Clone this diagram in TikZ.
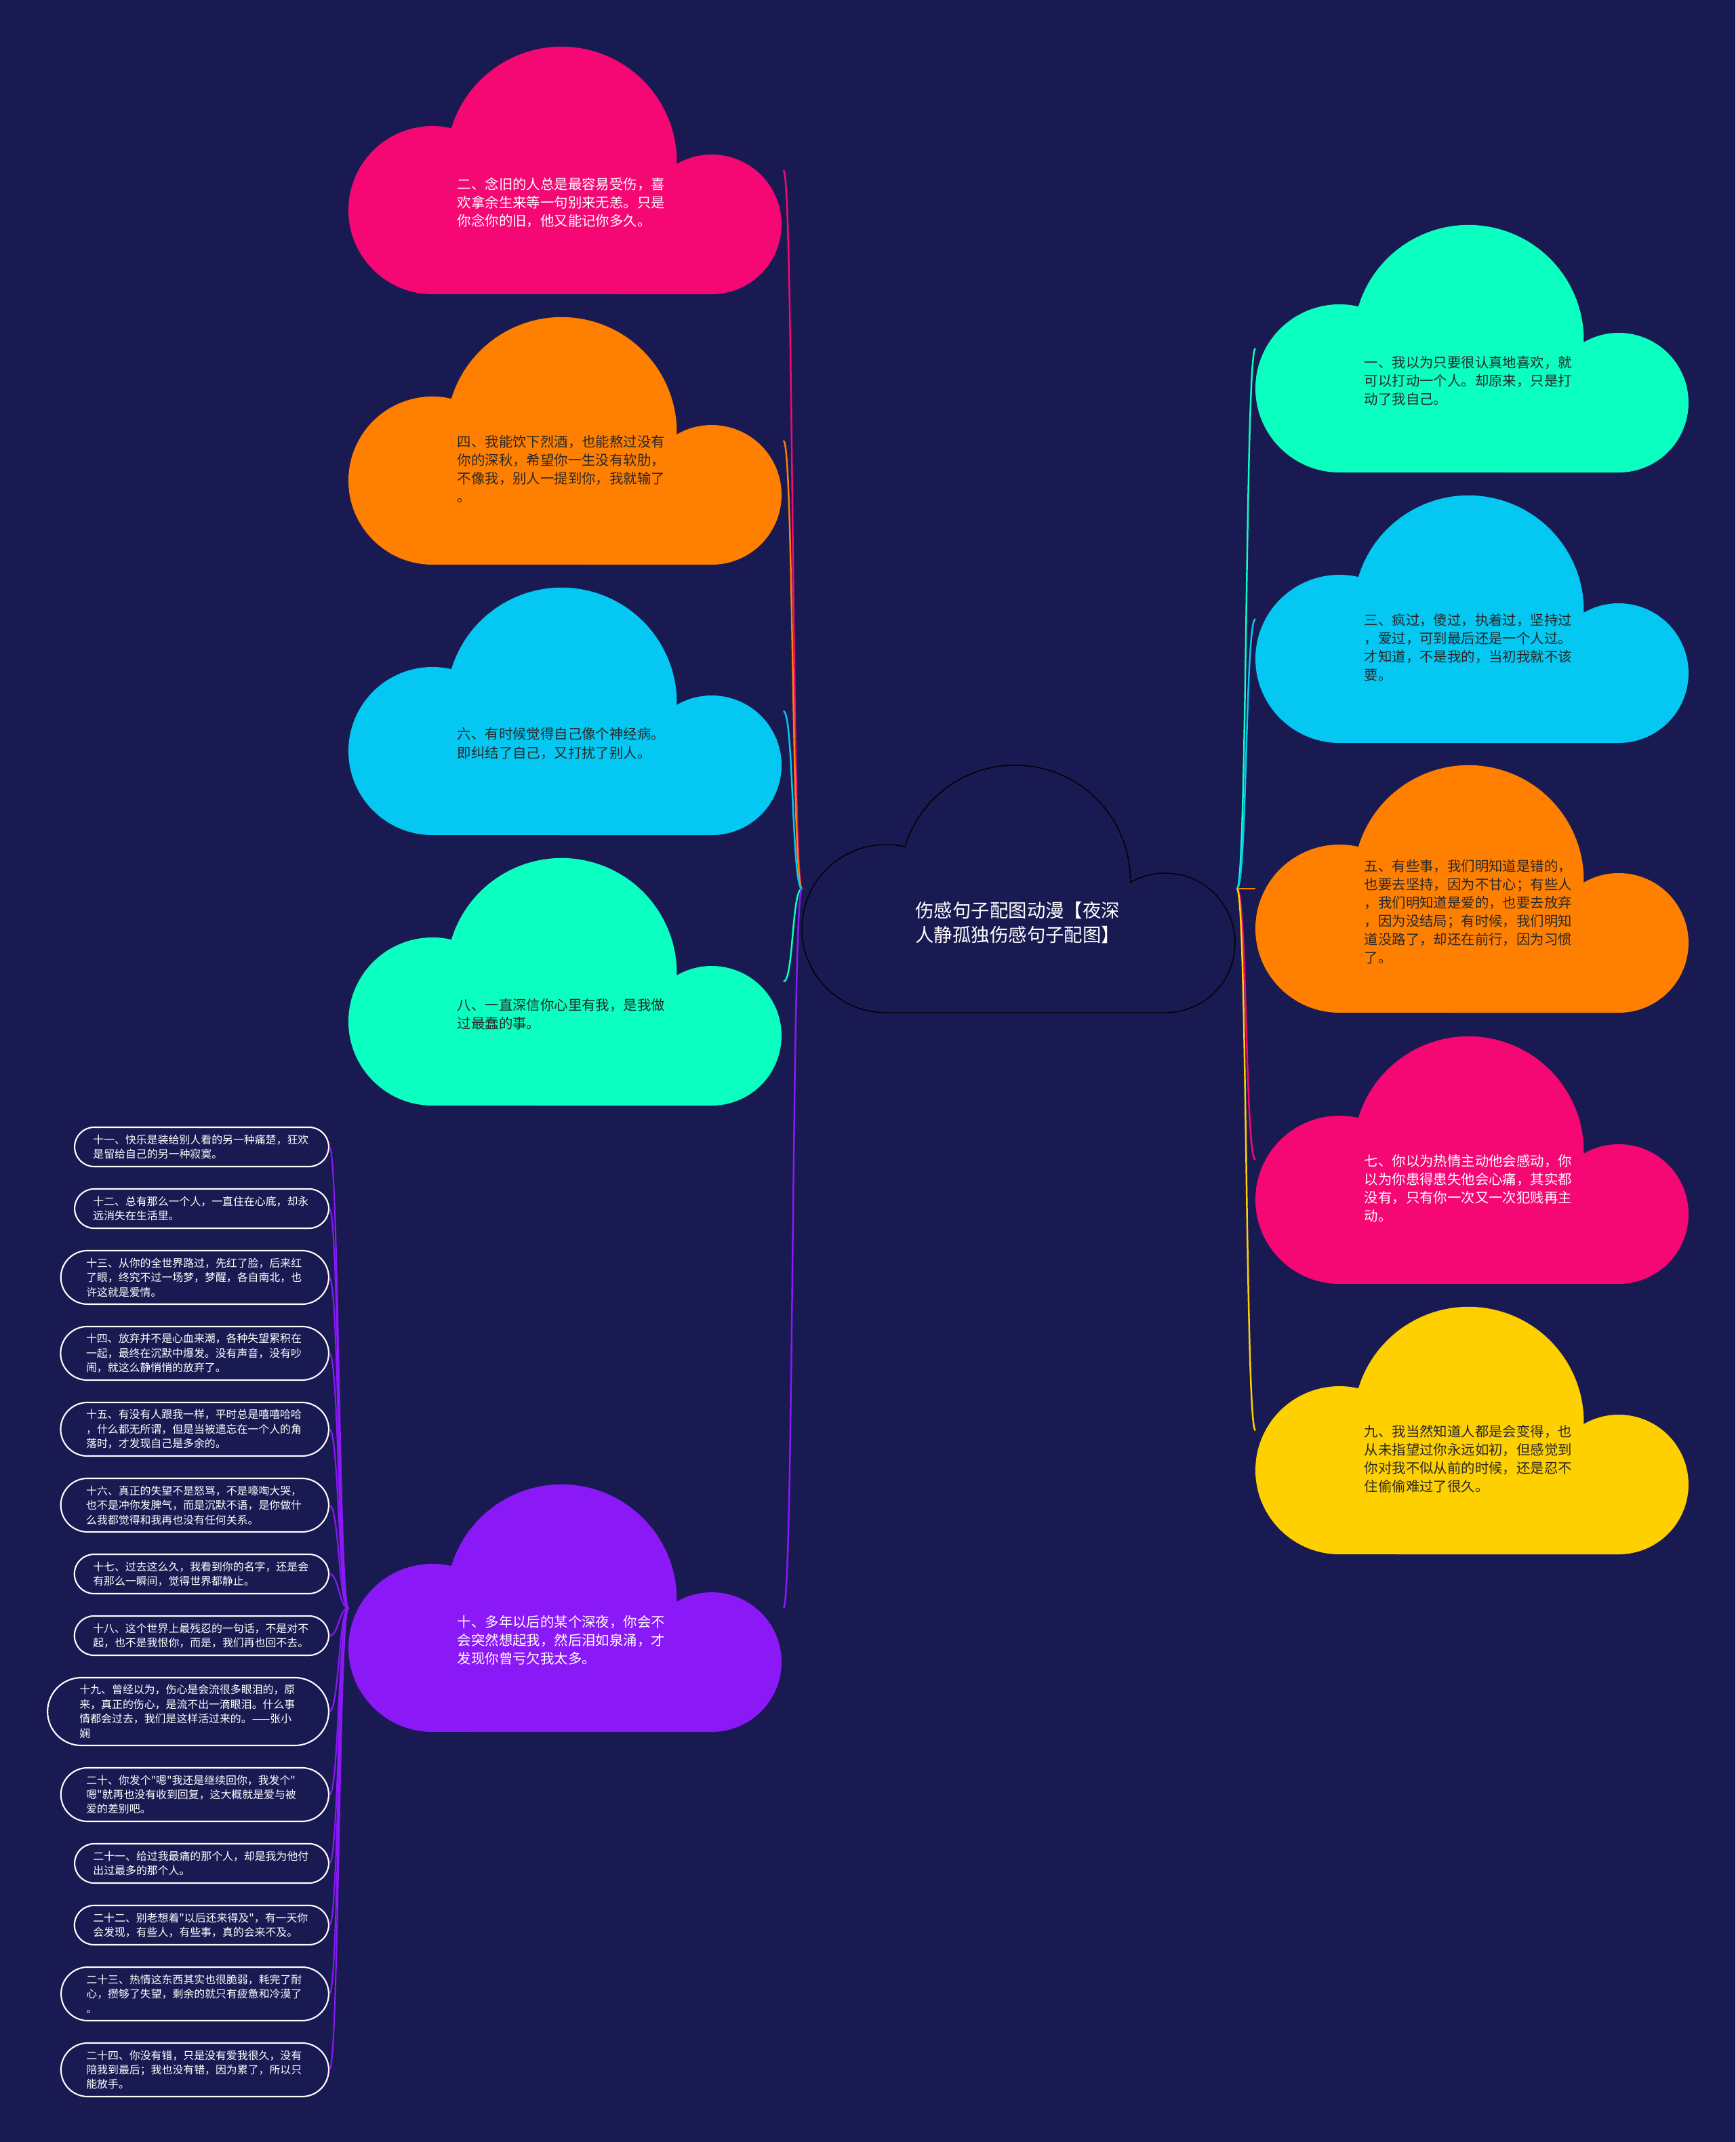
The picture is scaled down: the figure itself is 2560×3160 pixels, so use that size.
\documentclass[tikz,border=0pt]{standalone}
\usepackage{fontspec}
\usepackage{tikz}
\usetikzlibrary{shapes.misc,positioning}
\usepackage{xcolor}
\newfontfamily\cjk{Noto Sans CJK SC}
\definecolor{mynavy}{RGB}{26,26,82}
\definecolor{mypink}{RGB}{246,8,116}
\definecolor{myorange}{RGB}{255,128,0}
\definecolor{mycyan}{RGB}{4,200,242}
\definecolor{mygreen}{RGB}{10,255,192}
\definecolor{mypurple}{RGB}{138,24,247}
\definecolor{myyellow}{RGB}{255,208,0}
\definecolor{mydark}{RGB}{40,40,40}

% cloud outline on the box node #1
\newcommand{\cloud}[2]{%
  \path[#2] ([shift={(124,0)}]#1.south west)
    arc[start angle=270,end angle=77,radius=124]
    arc[start angle=163,end angle=-1,radius=170]
    arc[start angle=120,end angle=-90,radius=103] -- cycle;}

\begin{document}
\begin{tikzpicture}[x=0.01cm,y=0.01cm,
  cloudbox/.style={minimum width=6.4cm,minimum height=3.64cm,inner sep=0pt,anchor=south west},
  cloudtext/.style={font=\cjk\fontsize{5.8pt}{7.7pt}\selectfont,text width=3.1cm,align=left,inner sep=0pt},
  leaf/.style={rounded rectangle,draw=white,line width=0.6pt,text=white,
    font=\cjk\fontsize{4.52pt}{6.09pt}\selectfont,text width=3.2cm,align=left,
    inner ysep=0pt,anchor=east},
  two/.style={minimum height=0.58cm,inner xsep=0.21cm},
  three/.style={minimum height=0.79cm,inner xsep=0.25cm},
  four/.style={minimum height=1.0cm,inner xsep=0.28cm},
  link/.style={line width=0.7pt}]
  \fill[mynavy] (0,0) rectangle (2560,3160);

  % centre
  \node[cloudbox] (root) at (1183,1666) {};
  \cloud{root}{draw=black,line width=0.4pt}
  \node[font=\cjk\fontsize{7.8pt}{10.4pt}\selectfont,text width=3.05cm,align=left,inner sep=0pt,text=white]
    (roottext) at ([shift={(320,133)}]root.south west) {伤感句子配图动漫【夜深\\人静孤独伤感句子配图】};

  % left side
  \node[cloudbox] (c2) at (514,2726) {};
  \cloud{c2}{fill=mypink}
  \node[cloudtext,text=white] (t2) at ([shift={(316,135)}]c2.south west)
    {二、念旧的人总是最容易受伤，喜\\欢拿余生来等一句别来无恙。只是\\你念你的旧，他又能记你多久。};

  \node[cloudbox] (c4) at (514,2327) {};
  \cloud{c4}{fill=myorange}
  \node[cloudtext,text=mydark] (t4) at ([shift={(316,141)}]c4.south west)
    {四、我能饮下烈酒，也能熬过没有\\你的深秋，希望你一生没有软肋，\\不像我，别人一提到你，我就输了\\。};

  \node[cloudbox] (c6) at (514,1928) {};
  \cloud{c6}{fill=mycyan}
  \node[cloudtext,text=mydark] (t6) at ([shift={(316,135)}]c6.south west)
    {六、有时候觉得自己像个神经病。\\即纠结了自己，又打扰了别人。};

  \node[cloudbox] (c8) at (514,1529) {};
  \cloud{c8}{fill=mygreen}
  \node[cloudtext,text=mydark] (t8) at ([shift={(316,135)}]c8.south west)
    {八、一直深信你心里有我，是我做\\过最蠢的事。};

  \node[cloudbox] (c10) at (514,605) {};
  \cloud{c10}{fill=mypurple}
  \node[cloudtext,text=white] (t10) at ([shift={(316,135)}]c10.south west)
    {十、多年以后的某个深夜，你会不\\会突然想起我，然后泪如泉涌，才\\发现你曾亏欠我太多。};

  % right side
  \node[cloudbox] (c1) at (1852,2463) {};
  \cloud{c1}{fill=mygreen}
  \node[cloudtext,text=mydark] (t1) at ([shift={(316,135)}]c1.south west)
    {一、我以为只要很认真地喜欢，就\\可以打动一个人。却原来，只是打\\动了我自己。};

  \node[cloudbox] (c3) at (1852,2064) {};
  \cloud{c3}{fill=mycyan}
  \node[cloudtext,text=mydark] (t3) at ([shift={(316,141)}]c3.south west)
    {三、疯过，傻过，执着过，坚持过\\，爱过，可到最后还是一个人过。\\才知道，不是我的，当初我就不该\\要。};

  \node[cloudbox] (c5) at (1852,1666) {};
  \cloud{c5}{fill=myorange}
  \node[cloudtext,text=mydark] (t5) at ([shift={(316,149)}]c5.south west)
    {五、有些事，我们明知道是错的，\\也要去坚持，因为不甘心；有些人\\，我们明知道是爱的，也要去放弃\\，因为没结局；有时候，我们明知\\道没路了，却还在前行，因为习惯\\了。};

  \node[cloudbox] (c7) at (1852,1266) {};
  \cloud{c7}{fill=mypink}
  \node[cloudtext,text=white] (t7) at ([shift={(316,141)}]c7.south west)
    {七、你以为热情主动他会感动，你\\以为你患得患失他会心痛，其实都\\没有，只有你一次又一次犯贱再主\\动。};

  \node[cloudbox] (c9) at (1852,867) {};
  \cloud{c9}{fill=myyellow}
  \node[cloudtext,text=mydark] (t9) at ([shift={(316,141)}]c9.south west)
    {九、我当然知道人都是会变得，也\\从未指望过你永远如初，但感觉到\\你对我不似从前的时候，还是忍不\\住偷偷难过了很久。};

  % leaves of ten
  \node[leaf,two] (n11) at (486,1468) {十一、快乐是装给别人看的另一种痛楚，狂欢\\是留给自己的另一种寂寞。};
  \node[leaf,two] (n12) at (486,1377) {十二、总有那么一个人，一直住在心底，却永\\远消失在生活里。};
  \node[leaf,three] (n13) at (486,1275.5) {十三、从你的全世界路过，先红了脸，后来红\\了眼，终究不过一场梦，梦醒，各自南北，也\\许这就是爱情。};
  \node[leaf,three] (n14) at (486,1163.5) {十四、放弃并不是心血来潮，各种失望累积在\\一起，最终在沉默中爆发。没有声音，没有吵\\闹，就这么静悄悄的放弃了。};
  \node[leaf,three] (n15) at (486,1051.5) {十五、有没有人跟我一样，平时总是嘻嘻哈哈\\，什么都无所谓，但是当被遗忘在一个人的角\\落时，才发现自己是多余的。};
  \node[leaf,three] (n16) at (486,939.5) {十六、真正的失望不是怒骂，不是嚎啕大哭，\\也不是冲你发脾气，而是沉默不语，是你做什\\么我都觉得和我再也没有任何关系。};
  \node[leaf,two] (n17) at (486,838) {十七、过去这么久，我看到你的名字，还是会\\有那么一瞬间，觉得世界都静止。};
  \node[leaf,two] (n18) at (486,747) {十八、这个世界上最残忍的一句话，不是对不\\起，也不是我恨你，而是，我们再也回不去。};
  \node[leaf,four] (n19) at (486,635) {十九、曾经以为，伤心是会流很多眼泪的，原\\来，真正的伤心，是流不出一滴眼泪。什么事\\情都会过去，我们是这样活过来的。——张小\\娴};
  \node[leaf,three] (n20) at (486,512.5) {二十、你发个"嗯"我还是继续回你，我发个"\\嗯"就再也没有收到回复，这大概就是爱与被\\爱的差别吧。};
  \node[leaf,two] (n21) at (486,411) {二十一、给过我最痛的那个人，却是我为他付\\出过最多的那个人。};
  \node[leaf,two] (n22) at (486,320) {二十二、别老想着"以后还来得及"，有一天你\\会发现，有些人，有些事，真的会来不及。};
  \node[leaf,three] (n23) at (486,218.5) {二十三、热情这东西其实也很脆弱，耗完了耐\\心，攒够了失望，剩余的就只有疲惫和冷漠了\\。};
  \node[leaf,three] (n24) at (486,106.5) {二十四、你没有错，只是没有爱我很久，没有\\陪我到最后；我也没有错，因为累了，所以只\\能放手。};

  % connectors
  \draw[link,mypink] (root.west) .. controls +(-15,0) and +(15,0) .. (c2.east);
  \draw[link,myorange] (root.west) .. controls +(-15,0) and +(15,0) .. (c4.east);
  \draw[link,mycyan] (root.west) .. controls +(-15,0) and +(15,0) .. (c6.east);
  \draw[link,mygreen] (root.west) .. controls +(-15,0) and +(15,0) .. (c8.east);
  \draw[link,mypurple] (root.west) .. controls +(-15,0) and +(15,0) .. (c10.east);
  \draw[link,mygreen] (root.east) .. controls +(15,0) and +(-15,0) .. (c1.west);
  \draw[link,mycyan] (root.east) .. controls +(15,0) and +(-15,0) .. (c3.west);
  \draw[link,myorange] (root.east) .. controls +(15,0) and +(-15,0) .. (c5.west);
  \draw[link,mypink] (root.east) .. controls +(15,0) and +(-15,0) .. (c7.west);
  \draw[link,myyellow] (root.east) .. controls +(15,0) and +(-15,0) .. (c9.west);
  \foreach \n in {11,...,24}
    \draw[link,mypurple,line width=0.6pt] (c10.west) .. controls +(-14,0) and +(14,0) .. (n\n.east);
\end{tikzpicture}
\end{document}
